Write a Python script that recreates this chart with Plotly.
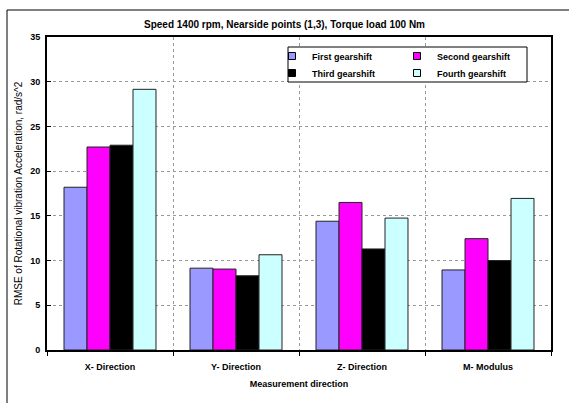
import plotly.graph_objects as go

categories = ["X- Direction", "Y- Direction", "Z- Direction", "M- Modulus"]
series_names = ["First gearshift", "Second gearshift", "Third gearshift", "Fourth gearshift"]
first = [18.2, 9.15, 14.4, 8.95]
second = [22.7, 9.05, 16.5, 12.45]
third = [22.9, 8.3, 11.3, 10.0]
fourth = [29.15, 10.65, 14.75, 16.95]
colors = ["#9999FF", "#FF00FF", "#000000", "#CCFFFF"]
y_ticks = [0, 5, 10, 15, 20, 25, 30, 35]

W, H = 569, 403
L, R, T, B = 47, 18, 37, 53
pw, ph = W - L - R, H - T - B

def px(x):
    return (x - L) / pw

def py(y):
    return (H - B - y) / ph

fig = go.Figure()
values = [first, second, third, fourth]
for i, (name, vals, col) in enumerate(zip(series_names, values, colors)):
    fig.add_trace(go.Bar(
        x=categories, y=vals, name=name, showlegend=False,
        marker=dict(color=col, line=dict(color="#222222", width=1)),
    ))
# legend entries
for i, (name, col) in enumerate(zip(series_names, colors)):
    fig.add_trace(go.Scatter(
        x=[None], y=[None], mode="markers", name=f"<b>{name}</b>",
        marker=dict(symbol="square", size=7, color=col, line=dict(color="#000000", width=1)),
        legend="legend" if i < 2 else "legend2",
    ))

font = "Liberation Sans, Arial, sans-serif"
leg_common = dict(
    orientation="h", xref="paper", yref="paper", xanchor="left", yanchor="middle",
    bgcolor="rgba(0,0,0,0)", borderwidth=0, entrywidth=80, entrywidthmode="pixels",
    font=dict(family=font, size=9, color="#000000"), itemwidth=30, tracegroupgap=0,
)

fig.update_layout(
    width=W, height=H,
    margin=dict(l=L, r=R, t=T, b=B, autoexpand=False),
    paper_bgcolor="#FFFFFF", plot_bgcolor="#FFFFFF",
    barmode="group", bargap=0.27, bargroupgap=0,
    title=dict(text="<b>Speed 1400 rpm, Nearside points (1,3), Torque load 100 Nm</b>",
               x=0.5, xref="container", xanchor="center",
               y=1 - 24 / H, yref="container", yanchor="middle",
               font=dict(family=font, size=10, color="#000000")),
    legend=dict(x=px(272), y=py(56), **leg_common),
    legend2=dict(x=px(272), y=py(73), **leg_common),
    xaxis=dict(
        type="category", tickson="boundaries", ticks="outside", ticklen=4, tickcolor="#000000",
        showline=True, linecolor="#000000", linewidth=2, mirror=True,
        showgrid=True, gridcolor="#999999", griddash="dot", gridwidth=1,
        tickfont=dict(family=font, size=9, color="#000000"), ticklabelstandoff=7,
        title=dict(text="<b>Measurement direction</b>", standoff=10,
                   font=dict(family=font, size=9, color="#000000")),
        automargin=False,
    ),
    yaxis=dict(
        range=[0, 35], tickvals=y_ticks, ticktext=[f"<b>{v}</b>" for v in y_ticks],
        ticks="inside", ticklen=4, tickcolor="#000000",
        showline=True, linecolor="#000000", linewidth=2, mirror=True,
        showgrid=True, gridcolor="#999999", griddash="dot", gridwidth=1,
        zeroline=False, ticklabelstandoff=3,
        tickfont=dict(family=font, size=9, color="#000000"),
        title=dict(text="RMSE of Rotational vibration Acceleration, rad/s^2", standoff=6,
                   font=dict(family=font, size=10, color="#000000")),
        automargin=False,
    ),
)
fig.update_xaxes(ticktext=[f"<b>{c}</b>" for c in categories], tickvals=categories)

# outer chart frame (left and top edges only are visible)
fig.add_shape(type="line", xref="paper", yref="paper",
              x0=px(7), x1=px(7), y0=py(H + 10), y1=py(10),
              line=dict(color="#000000", width=1), layer="below")
fig.add_shape(type="line", xref="paper", yref="paper",
              x0=px(7), x1=px(W + 10), y0=py(10), y1=py(10),
              line=dict(color="#000000", width=1), layer="below")
# legend frame
fig.add_shape(type="rect", xref="paper", yref="paper",
              x0=px(288), x1=px(527), y0=py(82), y1=py(47),
              line=dict(color="#000000", width=1), fillcolor="#FFFFFF", layer="above")

fig.write_html("out.html")
